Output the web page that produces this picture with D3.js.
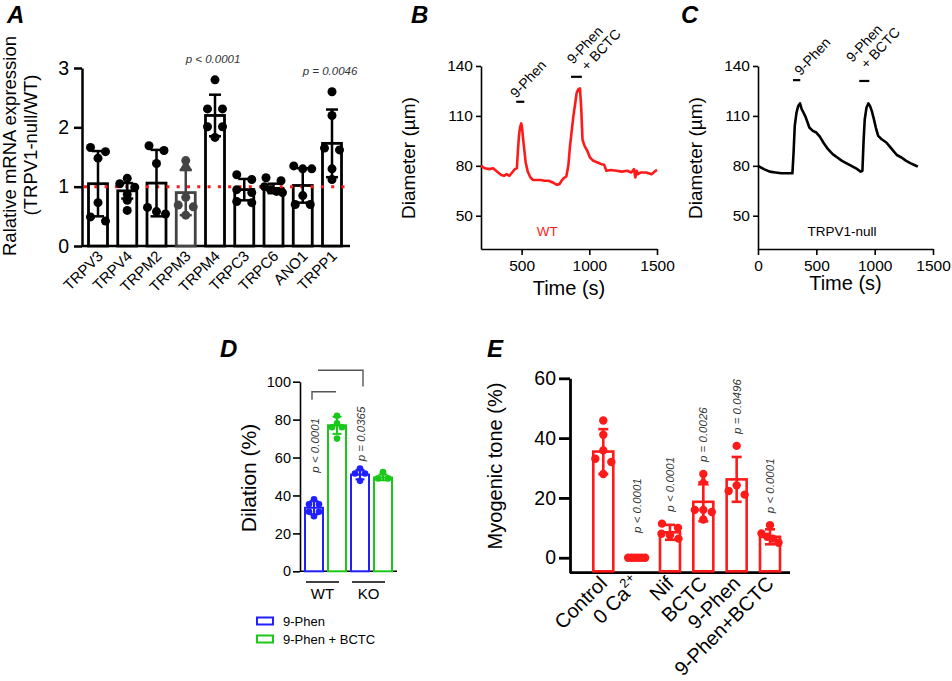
<!DOCTYPE html>
<html>
<head>
<meta charset="utf-8">
<script src="https://cdn.jsdelivr.net/npm/d3@7"></script>
<style>
  body { margin: 0; background: #fff; }
  svg text { font-family: "Liberation Sans", Arial, Helvetica, sans-serif; }
</style>
</head>
<body>
<div id="fig"></div>
<script>
// ---------- data ----------
// A: relative mRNA expression
const genes = ['TRPV3', 'TRPV4', 'TRPM2', 'TRPM3', 'TRPM4', 'TRPC3', 'TRPC6', 'ANO1', 'TRPP1'];
const geneMean = [1.05, 0.93, 1.06, 0.9, 2.2, 0.95, 0.97, 1.02, 1.73];
const geneSD = [0.55, 0.13, 0.56, 0.38, 0.35, 0.18, 0.08, 0.29, 0.57];
const genePts = [
  [1.66, 1.59, 1.48, 0.73, 0.49, 0.42],
  [1.14, 1.05, 0.99, 0.87, 0.77, 0.6],
  [1.69, 1.61, 1.39, 0.65, 0.58, 0.54],
  [1.44, 1.34, 0.82, 0.69, 0.66, 0.52],
  [2.8, 2.31, 2.31, 2.01, 2.01, 1.83],
  [1.2, 1.12, 0.95, 0.9, 0.75, 0.73],
  [1.15, 1.1, 1.0, 0.95, 0.92, 0.9],
  [1.35, 1.3, 1.3, 0.85, 0.7, 0.7],
  [2.6, 2.2, 1.65, 1.62, 1.3, 1.12]
];
const geneP = { TRPM4: 'p < 0.0001', TRPP1: 'p = 0.0046' };
const yTicksA = [0, 1, 2, 3];

// B: WT diameter trace (red)
const timeB = [200, 230, 260, 290, 320, 350, 370, 390, 410, 430, 450, 465, 472, 480, 488, 497, 502, 510, 520, 530, 545, 565, 585, 610, 640, 670, 700, 730, 760, 780, 795, 810, 830, 845, 857, 870, 882, 895, 906, 918, 931, 940, 950, 965, 985, 1005, 1030, 1060, 1090, 1110, 1126, 1160, 1200, 1240, 1280, 1310, 1330, 1340, 1350, 1360, 1380, 1420, 1460, 1490, 1500];
const diamB = [80, 78.5, 78, 78.5, 76.5, 74.5, 74, 75, 74, 76, 78, 78.6, 88, 97.6, 103, 105.5, 104, 97, 89.6, 82, 76.6, 73, 71.5, 71.5, 71.5, 71, 71, 70, 68.6, 69, 71, 72.5, 73.6, 80, 91.6, 101, 109.6, 117, 123.6, 126, 126.6, 115, 95.6, 92, 89, 85, 83, 82, 81, 80.6, 77, 77.5, 77, 76.5, 77, 76, 78, 73, 77, 75, 76, 76, 75, 77, 77.5];
const eventsB = [[460, 520], [865, 945]];

// C: TRPV1-null diameter trace (black)
const timeC = [0, 50, 100, 150, 200, 250, 295, 305, 315, 330, 345, 360, 375, 390, 410, 440, 470, 500, 530, 560, 600, 640, 680, 720, 760, 800, 840, 880, 895, 905, 915, 930, 946, 960, 975, 990, 1010, 1030, 1060, 1100, 1130, 1160, 1190, 1230, 1270, 1310, 1340, 1370];
const diamC = [80, 78, 76.5, 76, 75.5, 75.5, 75.5, 88, 104, 112, 116, 117.5, 114, 112, 109, 103, 101, 100, 97.5, 94, 90, 87, 85, 83, 81.5, 80, 78.5, 76.5, 77, 95, 108, 115, 117.5, 116, 113, 109, 103, 98, 96, 94, 91.5, 89, 86.5, 85, 83, 81.5, 80.5, 79.5];
const eventsC = [[300, 362], [868, 954]];

const eventLabels = [['9-Phen'], ['9-Phen', '+ BCTC']];
const yTicksBC = [50, 80, 110, 140];

// D: dilation
const dGroups = ['WT', 'KO'];
const dSeries = ['9-Phen', '9-Phen + BCTC'];
const dColors = ['#1f1fff', '#19c819'];
const dMean = [[33.5, 77], [51, 49.5]];
const dSD = [[3.5, 4.5], [2.5, 1.5]];
const dPts = [
  [[38, 35.3, 35.3, 31.4, 31.4, 29], [82, 78, 76, 76, 70]],
  [[54.2, 51.6, 51.6, 47.7], [52.3, 49, 49]]
];
const dP = ['p < 0.0001', 'p = 0.0365'];
const dPAt = [52, 58];
const yTicksD = [0, 20, 40, 60, 80, 100];

// E: myogenic tone
const eCats = ['Control', '0 Ca', 'Nif', 'BCTC', '9-Phen', '9-Phen+BCTC'];
const eMean = [35.5, 0, 8.5, 18.7, 26.2, 7];
const eSD = [7.5, 0, 2.5, 6.5, 7.5, 2.5];
const ePts = [
  [45.9, 41.1, 35.9, 33.1, 32, 28],
  [0, 0, 0, 0, 0, 0],
  [11.4, 10, 8, 7.5, 6.4],
  [28, 25.3, 16, 16, 15.3, 12.8],
  [37.4, 24.2, 22.3, 21.1],
  [10.9, 8.1, 7, 6.4, 5]
];
const eP = ['', 'p < 0.0001', 'p < 0.0001', 'p = 0.0026', 'p = 0.0496', 'p < 0.0001'];
const yTicksE = [0, 20, 40, 60];

// ---------- helpers ----------
const svg = d3.select('#fig').append('svg').attr('width', 952).attr('height', 681);

// spread points that sit on about the same level into a centred row
function rows(vals, y, tol, step, maxOff) {
  const idx = vals.map((v, i) => i).sort((a, b) => vals[b] - vals[a]);
  const out = [];
  let row = [];
  const flush = () => {
    const n = row.length;
    const s = n > 1 ? Math.min(step, 2 * maxOff / (n - 1)) : 0;
    row.forEach((i, k) => out[i] = (k - (n - 1) / 2) * s);
    row = [];
  };
  idx.forEach(i => {
    if (row.length && Math.abs(y(vals[i]) - y(vals[row[row.length - 1]])) >= tol) flush();
    row.push(i);
  });
  flush();
  return out;
}

function styleAxis(g, sw, fs) {
  g.attr('font-family', null).attr('font-size', null);
  g.select('.domain').attr('stroke-width', sw);
  g.selectAll('.tick line').attr('stroke-width', sw);
  g.selectAll('.tick text').attr('font-size', fs).attr('fill', '#000');
}

function letter(t, x, y) {
  svg.append('text').attr('x', x).attr('y', y).attr('font-size', 24)
    .attr('font-weight', 'bold').attr('font-style', 'italic').text(t);
}

function errBar(g, cx, y0, y1, half, color, sw) {
  g.append('line').attr('x1', cx).attr('x2', cx).attr('y1', y0).attr('y2', y1)
    .attr('stroke', color).attr('stroke-width', sw);
  [y0, y1].forEach(yy => g.append('line').attr('x1', cx - half).attr('x2', cx + half)
    .attr('y1', yy).attr('y2', yy).attr('stroke', color).attr('stroke-width', sw));
}

const fmt = d3.format('d');

// ---------- panel A ----------
letter('A', 7, 23);
const A = svg.append('g');
const xA = d3.scalePoint().domain(genes).range([98, 332]);
const yA = d3.scaleLinear().domain([0, 3]).range([246, 68]);

A.append('g').attr('transform', 'translate(82,0)')
  .call(d3.axisLeft(yA).tickValues(yTicksA).tickFormat(fmt).tickSize(8).tickSizeOuter(0).tickPadding(5))
  .call(styleAxis, 2.5, 19.5);
A.append('line').attr('x1', 82).attr('x2', 350).attr('y1', yA(0)).attr('y2', yA(0))
  .attr('stroke', '#000').attr('stroke-width', 2.5);

genes.forEach((gname, i) => {
  const col = gname === 'TRPM3' ? '#444' : '#000';
  const cx = xA(gname);
  A.append('rect').attr('x', cx - 9.5).attr('width', 19)
    .attr('y', yA(geneMean[i])).attr('height', yA(0) - yA(geneMean[i]))
    .attr('fill', '#fff').attr('stroke', col).attr('stroke-width', 2.8);
});

A.append('line').attr('x1', 84).attr('x2', 350).attr('y1', yA(1)).attr('y2', yA(1))
  .attr('stroke', '#ff1a1a').attr('stroke-width', 3).attr('stroke-dasharray', '3,7.3');

genes.forEach((gname, i) => {
  const col = gname === 'TRPM3' ? '#444' : '#000';
  const cx = xA(gname);
  errBar(A, cx, yA(geneMean[i] + geneSD[i]), yA(geneMean[i] - geneSD[i]), 6, col, 2.5);
  const offs = rows(genePts[i], yA, 5, 15, 9);
  genePts[i].forEach((v, j) => {
    if (gname === 'TRPM3' && j === 1) {
      A.append('path').attr('d', d3.symbol(d3.symbolTriangle, 70)())
        .attr('transform', `translate(${cx + offs[j]},${yA(v)})`).attr('fill', col);
    } else {
      A.append('circle').attr('cx', cx + offs[j]).attr('cy', yA(v)).attr('r', 4.5).attr('fill', col);
    }
  });
  if (geneP[gname]) {
    A.append('text').attr('x', cx - 2).attr('y', yA(d3.max(genePts[i])) - 17)
      .attr('text-anchor', 'middle').attr('font-size', 11.5).attr('font-style', 'italic')
      .attr('fill', '#333').text(geneP[gname]);
  }
});

A.selectAll('.xl').data(genes).join('text')
  .attr('transform', d => `translate(${xA(d) + 6},${yA(0) + 11}) rotate(-45)`)
  .attr('text-anchor', 'end').attr('font-size', 15).text(d => d);

A.append('text').attr('transform', `translate(16,146) rotate(-90)`)
  .attr('text-anchor', 'middle').attr('font-size', 18.5).text('Ralative mRNA expression');
A.append('text').attr('transform', `translate(37,145) rotate(-90)`)
  .attr('text-anchor', 'middle').attr('font-size', 18.5).text('(TRPV1-null/WT)');

// ---------- panels B and C ----------
function tracePanel(opts) {
  const g = svg.append('g');
  const x = d3.scaleLinear().domain(opts.xDomain).range(opts.xRange);
  const y = d3.scaleLinear().domain([30, 140]).range([249, 66]);
  g.append('g').attr('transform', `translate(${opts.xRange[0]},0)`)
    .call(d3.axisLeft(y).tickValues(yTicksBC).tickFormat(fmt).tickSize(5).tickSizeOuter(0).tickPadding(3))
    .call(styleAxis, 1.6, 15.5);
  g.append('g').attr('transform', 'translate(0,249)')
    .call(d3.axisBottom(x).tickValues(opts.xTicks).tickFormat(fmt).tickSize(6).tickSizeOuter(0).tickPadding(5))
    .call(styleAxis, 1.6, 15.5);

  g.append('path').datum(opts.t.map((t, i) => [t, opts.d[i]]))
    .attr('d', d3.line().x(d => x(d[0])).y(d => y(d[1])))
    .attr('fill', 'none').attr('stroke', opts.color).attr('stroke-width', 2.6)
    .attr('stroke-linejoin', 'round');

  opts.events.forEach((ev, k) => {
    const yy = y(opts.evY[k]);
    g.append('line').attr('x1', x(ev[0])).attr('x2', x(ev[1])).attr('y1', yy).attr('y2', yy)
      .attr('stroke', '#000').attr('stroke-width', 2.2);
    const tx = (x(ev[0]) + x(ev[1])) / 2 + opts.evDx[k];
    const txt = g.append('text').attr('transform', `translate(${tx},${yy + opts.evDy[k]}) rotate(-47)`)
      .attr('font-size', 14);
    eventLabels[k].forEach((s, j) => {
      txt.append('tspan').attr('x', j ? 5 : 0).attr('dy', j ? 15 : 0).text(s);
    });
  });

  g.append('text').attr('x', x(opts.noteAt[0])).attr('y', y(opts.noteAt[1]))
    .attr('text-anchor', 'middle').attr('font-size', 13.5).attr('fill', opts.color).text(opts.note);
  g.append('text').attr('x', (opts.xRange[0] + opts.xRange[1]) / 2).attr('y', opts.timeY)
    .attr('text-anchor', 'middle').attr('font-size', 20).text('Time (s)');
  g.append('text').attr('transform', `translate(${opts.titleX},158) rotate(-90)`)
    .attr('text-anchor', 'middle').attr('font-size', 19).text('Diameter (\u00b5m)');
}

letter('B', 411, 23);
tracePanel({
  xDomain: [200, 1500], xRange: [481, 657], xTicks: [500, 1000, 1500],
  t: timeB, d: diamB, color: '#ff1a1a', events: eventsB, evY: [118.5, 133.5],
  evDx: [-4, -3.5], evDy: [-3, -12],
  note: 'WT', noteAt: [690, 38], titleX: 415, timeY: 295
});

letter('C', 681, 23);
tracePanel({
  xDomain: [0, 1500], xRange: [758, 933], xTicks: [0, 500, 1000, 1500],
  t: timeC, d: diamC, color: '#000', events: eventsC, evY: [131.5, 131],
  evDx: [4, -12], evDy: [-4, -18],
  note: 'TRPV1-null', noteAt: [720, 38], titleX: 702, timeY: 290
});

// ---------- panel D ----------
letter('D', 220, 357);
const D = svg.append('g');
const keysD = [];
dGroups.forEach(gr => dSeries.forEach(s => keysD.push(gr + '|' + s)));
const xD = d3.scalePoint().domain(keysD).range([314, 383]);
const yD = d3.scaleLinear().domain([0, 100]).range([571.3, 381.7]);

D.append('g').attr('transform', 'translate(300,0)')
  .call(d3.axisLeft(yD).tickValues(yTicksD).tickFormat(fmt).tickSize(7).tickSizeOuter(0).tickPadding(2))
  .call(styleAxis, 1.6, 14.5);
D.append('line').attr('x1', 300).attr('x2', 397).attr('y1', yD(0)).attr('y2', yD(0))
  .attr('stroke', '#000').attr('stroke-width', 1.6);

dGroups.forEach((gr, gi) => {
  dSeries.forEach((s, si) => {
    const cx = xD(gr + '|' + s), col = dColors[si];
    const m = dMean[gi][si], sd = dSD[gi][si];
    D.append('rect').attr('x', cx - 9).attr('width', 18).attr('y', yD(m)).attr('height', yD(0) - yD(m))
      .attr('fill', '#fff').attr('stroke', col).attr('stroke-width', 2);
    errBar(D, cx, yD(m + sd), yD(m - sd), 4.5, col, 2);
    const pts = dPts[gi][si];
    const offs = rows(pts, yD, 3.5, 10, 6);
    pts.forEach((v, j) => D.append('circle').attr('cx', cx + offs[j]).attr('cy', yD(v))
      .attr('r', 3.3).attr('fill', col));
  });
  // p value above first bar of each group
  D.append('text').attr('transform', `translate(${xD(gr + '|' + dSeries[0]) + 5},${yD(dPAt[gi])}) rotate(-90)`)
    .attr('font-size', 11.5).attr('font-style', 'italic').attr('fill', '#333').text(dP[gi]);
  // group underline and label
  const x0 = xD(gr + '|' + dSeries[0]) - 8, x1 = xD(gr + '|' + dSeries[1]) + 2;
  D.append('line').attr('x1', x0).attr('x2', x1).attr('y1', 582).attr('y2', 582)
    .attr('stroke', '#000').attr('stroke-width', 1.6);
  D.append('text').attr('x', (x0 + x1) / 2).attr('y', 599).attr('text-anchor', 'middle')
    .attr('font-size', 15).text(gr);
});

// comparison brackets
D.append('path')
  .attr('d', `M${xD('WT|9-Phen') + 4},${yD(106)}H${xD('KO|9-Phen') + 3}V${yD(97.5)}`)
  .attr('fill', 'none').attr('stroke', '#555').attr('stroke-width', 1.4);
D.append('path')
  .attr('d', `M${xD('WT|9-Phen') - 2},${yD(90.5)}V${yD(94.7)}H${xD('WT|9-Phen + BCTC') - 1}`)
  .attr('fill', 'none').attr('stroke', '#555').attr('stroke-width', 1.4);

// legend
dSeries.forEach((s, i) => {
  D.append('rect').attr('x', 257).attr('y', 617.5 + i * 18).attr('width', 16).attr('height', 7)
    .attr('fill', '#fff').attr('stroke', dColors[i]).attr('stroke-width', 2);
  D.append('text').attr('x', 283).attr('y', 625.5 + i * 18).attr('font-size', 13).text(s);
});

D.append('text').attr('transform', 'translate(256,478) rotate(-90)')
  .attr('text-anchor', 'middle').attr('font-size', 21).text('Dilation (%)');

// ---------- panel E ----------
letter('E', 487, 357);
const E = svg.append('g');
const xE = d3.scalePoint().domain(eCats).range([603.3, 770]);
const yE = d3.scaleLinear().domain([-5, 60]).range([572.7, 378.3]);
const red = '#ff1a1a';

E.append('g').attr('transform', 'translate(570,0)')
  .call(d3.axisLeft(yE).tickValues(yTicksE).tickFormat(fmt).tickSize(11).tickSizeOuter(0).tickPadding(3))
  .call(styleAxis, 2.8, 19.5);
E.append('line').attr('x1', 570).attr('x2', 790).attr('y1', yE(-5)).attr('y2', yE(-5))
  .attr('stroke', '#000').attr('stroke-width', 2.8);

eCats.forEach((c, i) => {
  const cx = xE(c);
  if (eMean[i] > 0) {
    E.append('rect').attr('x', cx - 10).attr('width', 20).attr('y', yE(eMean[i]))
      .attr('height', yE(-5) - yE(eMean[i]) - 1.4)
      .attr('fill', '#fff').attr('stroke', red).attr('stroke-width', 2.6);
    errBar(E, cx, yE(eMean[i] + eSD[i]), yE(eMean[i] - eSD[i]), 5, red, 2.6);
  }
  const offs = rows(ePts[i], yE, 5, 16, 8.5);
  ePts[i].forEach((v, j) => {
    if (c === 'BCTC' && j === 1) {
      E.append('path').attr('d', d3.symbol(d3.symbolTriangle, 60)())
        .attr('transform', `translate(${cx + offs[j]},${yE(v)})`).attr('fill', red);
    } else {
      E.append('circle').attr('cx', cx + offs[j]).attr('cy', yE(v)).attr('r', 4.2).attr('fill', red);
    }
  });
  if (eP[i]) {
    const top = Math.max(d3.max(ePts[i]), eMean[i] + eSD[i]);
    const yy = Math.min(yE(top) - 12, yE(8.3));
    E.append('text').attr('transform', `translate(${cx + 4},${yy}) rotate(-90)`)
      .attr('font-size', 11.5).attr('font-style', 'italic').attr('fill', '#333').text(eP[i]);
  }
});

const xl = E.selectAll('.xl').data(eCats).join('text')
  .attr('transform', d => `translate(${xE(d) + 5},${yE(-5) + 12}) rotate(-45)`)
  .attr('text-anchor', 'end').attr('font-size', 20);
xl.append('tspan').text(d => d);
xl.filter(d => d === '0 Ca').append('tspan').attr('font-size', 13).attr('dy', -9).text('2+');

E.append('text').attr('transform', 'translate(502,466) rotate(-90)')
  .attr('text-anchor', 'middle').attr('font-size', 20).text('Myogenic tone (%)');
</script>
</body>
</html>
